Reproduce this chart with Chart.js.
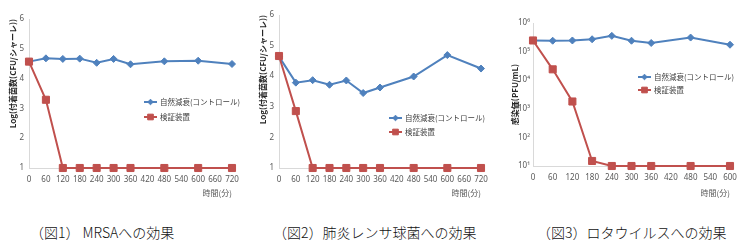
<!DOCTYPE html>
<html>
<head>
<meta charset="utf-8">
<script src="https://cdn.jsdelivr.net/npm/chart.js@4"></script>
<style>
  body { margin: 0; width: 748px; height: 252px; background: #fff; position: relative; overflow: hidden; }
  canvas { position: absolute; top: 0; }
  .cap { position: absolute; top: 225px; font-family: "Noto Sans CJK JP", sans-serif; font-weight: 300; font-size: 14px; line-height: 15px; color: #111; white-space: nowrap; }
</style>
</head>
<body>
<canvas id="c1" style="left:0" width="250" height="210"></canvas>
<canvas id="c2" style="left:250px" width="250" height="210"></canvas>
<canvas id="c3" style="left:500px" width="248" height="210"></canvas>
<div class="cap" style="left:30px">（図1） MRSAへの効果</div>
<div class="cap" style="left:273px">（図2）肺炎レンサ球菌への効果</div>
<div class="cap" style="left:537px">（図3）ロタウイルスへの効果</div>
<script>
// data
const minutesA = [0, 60, 120, 180, 240, 300, 360, 480, 600, 720];
const minutesB = [0, 60, 120, 180, 240, 300, 360, 480, 600];
const seriesNames = ['自然減衰(コントロール)', '検証装置'];

const mrsaControl = [4.57, 4.68, 4.66, 4.67, 4.53, 4.66, 4.48, 4.58, 4.60, 4.49];
const mrsaDevice = [4.57, 3.29, 1, 1, 1, 1, 1, 1, 1, 1];

const strepControl = [4.64, 3.79, 3.87, 3.72, 3.86, 3.45, 3.63, 3.99, 4.69, 4.25];
const strepDevice = [4.66, 2.86, 1, 1, 1, 1, 1, 1, 1, 1];

const rotaControl = [245000, 240000, 245000, 270000, 355000, 240000, 200000, 310000, 174000];
const rotaDevice = [245000, 24000, 1800, 15, 10, 10, 10, 10, 10];

const logTicks = [10, 100, 1000, 10000, 100000, 1000000];
const supDigits = ['⁰', '¹', '²', '³', '⁴', '⁵', '⁶'];

const blue = '#4F81BD';
const red = '#C0504D';
const tickColor = '#595959';
const axisColor = '#D9D9D9';
const H = 210;

const insideLegend = {
  id: 'insideLegend',
  afterDatasetsDraw(chart, args, opts) {
    const ctx = chart.ctx;
    ctx.save();
    chart.data.datasets.forEach((ds, i) => {
      const y = opts.y + i * opts.gap;
      ctx.strokeStyle = ds.borderColor;
      ctx.fillStyle = ds.backgroundColor;
      ctx.lineWidth = 2;
      ctx.beginPath();
      ctx.moveTo(opts.x, y);
      ctx.lineTo(opts.x + 13, y);
      ctx.stroke();
      ctx.lineWidth = 1;
      Chart.helpers.drawPoint(ctx, { pointStyle: ds.pointStyle, radius: ds.pointRadius * 0.8, rotation: 0, borderWidth: 1 }, opts.x + 6.5, y);
      ctx.fillStyle = '#404040';
      ctx.font = '7.5px "Noto Sans CJK JP"';
      ctx.textBaseline = 'middle';
      ctx.fillText(ds.label, opts.x + 16, y);
    });
    ctx.restore();
  }
};

function fixBox(w, h) {
  return function (scale) {
    if (w !== null) scale.width = w;
    if (h !== null) scale.height = h;
    scale.paddingLeft = scale.paddingRight = scale.paddingTop = scale.paddingBottom = 0;
  };
}

function makeChart(id, xs, control, device, area, yScale, yTitle, legend, xMax) {
  const canvas = document.getElementById(id);
  const titleFont = { family: '"Noto Sans CJK JP"', size: 8, weight: 'bold' };
  return new Chart(canvas, {
    type: 'line',
    data: {
      labels: xs,
      datasets: [
        {
          label: seriesNames[0],
          data: xs.map((x, i) => ({ x: x, y: control[i] })),
          borderColor: blue, backgroundColor: blue, borderWidth: 2,
          pointStyle: 'rectRot', pointRadius: 3.5, pointBorderWidth: 1,
          clip: false, order: 1
        },
        {
          label: seriesNames[1],
          data: xs.map((x, i) => ({ x: x, y: device[i] })),
          borderColor: red, backgroundColor: red, borderWidth: 2,
          pointStyle: 'rect', pointRadius: 5, pointBorderWidth: 1,
          clip: false, order: 0
        }
      ]
    },
    options: {
      responsive: false,
      animation: false,
      layout: { padding: { left: 0, top: area.top, right: canvas.width - area.right, bottom: 0 } },
      plugins: {
        legend: { display: false },
        tooltip: { enabled: false },
        insideLegend: legend
      },
      scales: {
        x: {
          type: 'linear', min: 0, max: xMax,
          grid: { display: false, drawTicks: false },
          border: { display: true, color: axisColor, width: 1 },
          ticks: { stepSize: 60, autoSkip: false, maxRotation: 0, padding: 7, color: tickColor, font: { family: '"Noto Sans"', size: 8 } },
          title: { display: true, text: '時間(分)', align: 'end', color: tickColor, padding: { top: 0, bottom: 12 }, font: { family: '"Noto Sans CJK JP"', size: 8 } },
          afterFit: fixBox(null, H - area.bottom)
        },
        y: Object.assign({
          grid: { display: false, drawTicks: false },
          border: { display: true, color: axisColor, width: 1 },
          title: { display: true, text: yTitle.text, align: yTitle.align, color: '#262626', padding: { top: yTitle.pad, bottom: 0 }, font: titleFont },
          afterFit: fixBox(area.left, null)
        }, yScale)
      }
    },
    plugins: [insideLegend]
  });
}

const linearY = {
  type: 'linear', min: 1, max: 6,
  ticks: { stepSize: 1, padding: 5, color: tickColor, font: { family: '"Noto Sans"', size: 8 } }
};

makeChart('c1', minutesA, mrsaControl, mrsaDevice,
  { left: 29, right: 232, top: 19, bottom: 168 }, linearY,
  { text: 'Log(付着菌数(CFU/シャーレ))', align: 'end', pad: 8 },
  { x: 144, y: 102, gap: 15 }, 720);

makeChart('c2', minutesA, strepControl, strepDevice,
  { left: 29, right: 231, top: 15, bottom: 168 }, linearY,
  { text: 'Log(付着菌数(CFU/シャーレ))', align: 'end', pad: 8 },
  { x: 139, y: 118, gap: 14 }, 720);

makeChart('c3', minutesB, rotaControl, rotaDevice,
  { left: 33, right: 230, top: 23, bottom: 166 },
  {
    type: 'logarithmic', min: 10, max: 1000000,
    afterBuildTicks: (scale) => { scale.ticks = logTicks.map(v => ({ value: v })); },
    ticks: {
      padding: 3, color: tickColor, font: { family: '"Noto Sans"', size: 8 },
      callback: (v) => '10' + supDigits[Math.round(Math.log10(v))]
    }
  },
  { text: '感染価(PFU/mL)', align: 'center', pad: 10 },
  { x: 138, y: 77, gap: 13 }, 600);
</script>
</body>
</html>
